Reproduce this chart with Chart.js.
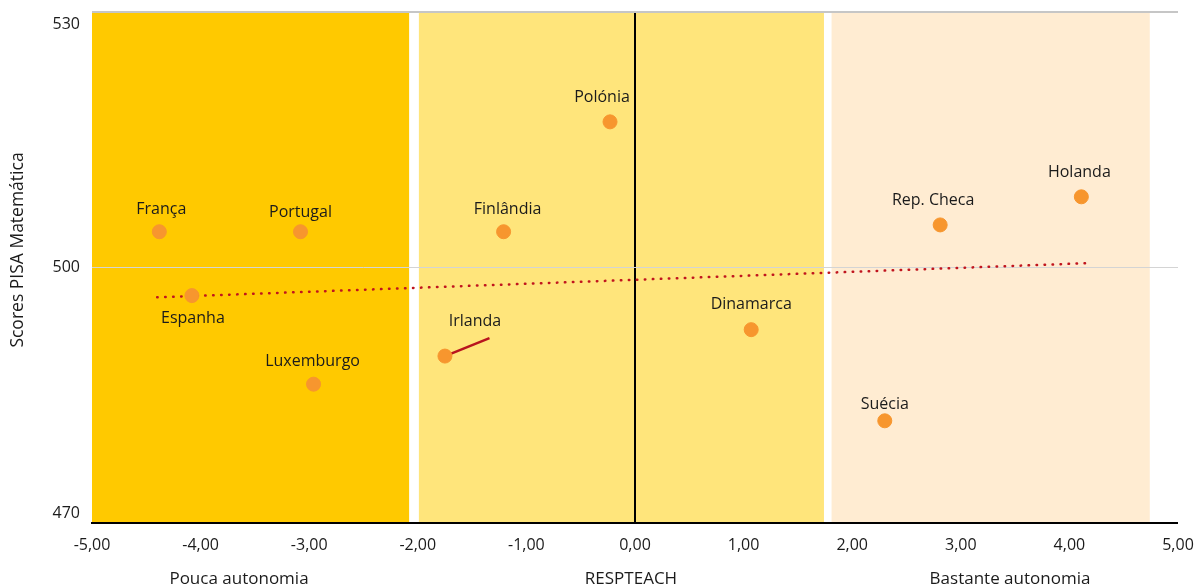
<!DOCTYPE html>
<html lang="pt">
<head>
  <meta charset="UTF-8" />
  <title>Scores PISA Matemática vs RESPTEACH</title>
  <script src="https://cdn.jsdelivr.net/npm/chart.js"></script>
  <style>
    html, body { margin: 0; padding: 0; background: #fff; }
    .wrap { width: 1194px; height: 586px; position: relative; }
  </style>
</head>
<body>
  <div class="wrap"><canvas id="chart"></canvas></div>
  <script>
    // country points
    const countries = ['França', 'Portugal', 'Espanha', 'Luxemburgo', 'Irlanda', 'Finlândia',
      'Polónia', 'Dinamarca', 'Suécia', 'Rep. Checa', 'Holanda'];
    const respteach = [-4.38, -3.08, -4.08, -2.96, -1.75, -1.21, -0.23, 1.07, 2.30, 2.81, 4.11];
    const pisaScores = [504.2, 504.2, 496.7, 486.3, 489.6, 504.2, 517.1, 492.7, 482.0, 505.0, 508.3];

    // dotted trend line
    const trendX = [-4.40, 4.15];
    const trendY = [496.5, 500.5];

    // little leader line next to Irlanda
    const leaderX = [-1.75, -1.34];
    const leaderY = [489.6, 491.7];

    // background bands (x range)
    const bandStart = [-5.00, -1.99, 1.81];
    const bandEnd = [-2.08, 1.74, 4.74];
    const bandColors = ['#FFC900', '#FFE57B', '#FFECD2'];

    const yTicks = [470, 500, 530];
    const groupTitles = ['Pouca autonomia', 'RESPTEACH', 'Bastante autonomia'];

    // label offsets in px (dx, dy) from each point
    const labelDx = [2, 0, 1, -1, 30, 4, -8, 0, 0, -7, -2];
    const labelDy = [-22, -19, 23, -23, -35, -22, -24, -25, -16, -24, -24];

    const FONT = '"Open Sans", Lato, sans-serif';
    const textColor = '#1b1b1b';

    const bandsPlugin = {
      id: 'bands',
      beforeDraw(chart) {
        const { ctx, chartArea, scales } = chart;
        ctx.save();
        bandStart.forEach((s, i) => {
          const x0 = scales.x.getPixelForValue(s);
          const x1 = scales.x.getPixelForValue(bandEnd[i]);
          ctx.fillStyle = bandColors[i];
          ctx.fillRect(x0, chartArea.top, x1 - x0, chartArea.bottom - chartArea.top);
        });
        ctx.restore();
      }
    };

    const textPlugin = {
      id: 'texts',
      afterDraw(chart) {
        const { ctx, chartArea, scales } = chart;
        ctx.save();
        ctx.fillStyle = textColor;

        // point labels
        ctx.font = '16px ' + FONT;
        ctx.textAlign = 'center';
        ctx.textBaseline = 'middle';
        countries.forEach((name, i) => {
          const px = scales.x.getPixelForValue(respteach[i]);
          const py = scales.y.getPixelForValue(pisaScores[i]);
          ctx.fillText(name, px + labelDx[i], py + labelDy[i]);
        });

        // y tick labels, kept inside the plot height like the original
        ctx.font = '16px ' + FONT;
        ctx.textAlign = 'right';
        yTicks.forEach(v => {
          let py = scales.y.getPixelForValue(v);
          py = Math.min(Math.max(py, chartArea.top + 12), chartArea.bottom - 10);
          ctx.fillText(String(v), chartArea.left - 12, py);
        });

        // x titles
        ctx.textAlign = 'center';
        ctx.textBaseline = 'alphabetic';
        ctx.font = '17px ' + FONT;
        const titleX = [239, 631, 1010];
        groupTitles.forEach((t, i) => ctx.fillText(t, titleX[i], 584));

        // y title
        ctx.font = '17.5px ' + FONT;
        ctx.translate(18, 250);
        ctx.rotate(-Math.PI / 2);
        ctx.textBaseline = 'middle';
        ctx.fillText('Scores PISA Matemática', 0, 0);
        ctx.restore();
      }
    };

    new Chart(document.getElementById('chart'), {
      type: 'scatter',
      data: {
        datasets: [
          {
            label: 'Países',
            data: respteach.map((x, i) => ({ x, y: pisaScores[i] })),
            backgroundColor: '#F7962E',
            borderColor: '#F7962E',
            pointRadius: 7,
            pointHoverRadius: 7
          },
          {
            label: 'Irlanda',
            type: 'line',
            data: leaderX.map((x, i) => ({ x, y: leaderY[i] })),
            borderColor: '#B8141E',
            borderWidth: 2.5,
            pointRadius: 0,
            fill: false
          },
          {
            label: 'Tendência',
            type: 'line',
            data: trendX.map((x, i) => ({ x, y: trendY[i] })),
            borderColor: '#C0141E',
            borderWidth: 2.5,
            borderDash: [0.5, 7.5],
            borderCapStyle: 'round',
            pointRadius: 0,
            fill: false
          }
        ]
      },
      options: {
        responsive: true,
        maintainAspectRatio: false,
        animation: false,
        layout: { padding: { top: 12, right: 16, left: 0, bottom: 0 } },
        plugins: { legend: { display: false }, tooltip: { enabled: false } },
        scales: {
          x: {
            type: 'linear',
            min: -5,
            max: 5,
            afterFit(scale) {
              scale.height = 63;
              scale.paddingLeft = 0;
              scale.paddingRight = 0;
            },
            border: { display: true, color: '#000', width: 2 },
            grid: {
              drawTicks: false,
              color: ctx => (ctx.tick && ctx.tick.value === 0 ? '#000' : 'rgba(0,0,0,0)'),
              lineWidth: ctx => (ctx.tick && ctx.tick.value === 0 ? 2 : 0)
            },
            ticks: {
              stepSize: 1,
              padding: 13,
              color: textColor,
              font: { family: FONT, size: 16 },
              callback: v => v.toFixed(2).replace('.', ',')
            }
          },
          y: {
            min: 470,
            max: 530,
            afterFit(scale) { scale.width = 92; },
            border: { display: false },
            grid: {
              drawTicks: false,
              color: ctx => {
                const v = ctx.tick && ctx.tick.value;
                if (v === 530) return '#C6C6C6';
                if (v === 500) return '#D4D4D4';
                return 'rgba(0,0,0,0)';
              },
              lineWidth: ctx => (ctx.tick && ctx.tick.value === 530 ? 2 : 1)
            },
            ticks: { stepSize: 30, display: false }
          }
        }
      },
      plugins: [bandsPlugin, textPlugin]
    });
  </script>
</body>
</html>
